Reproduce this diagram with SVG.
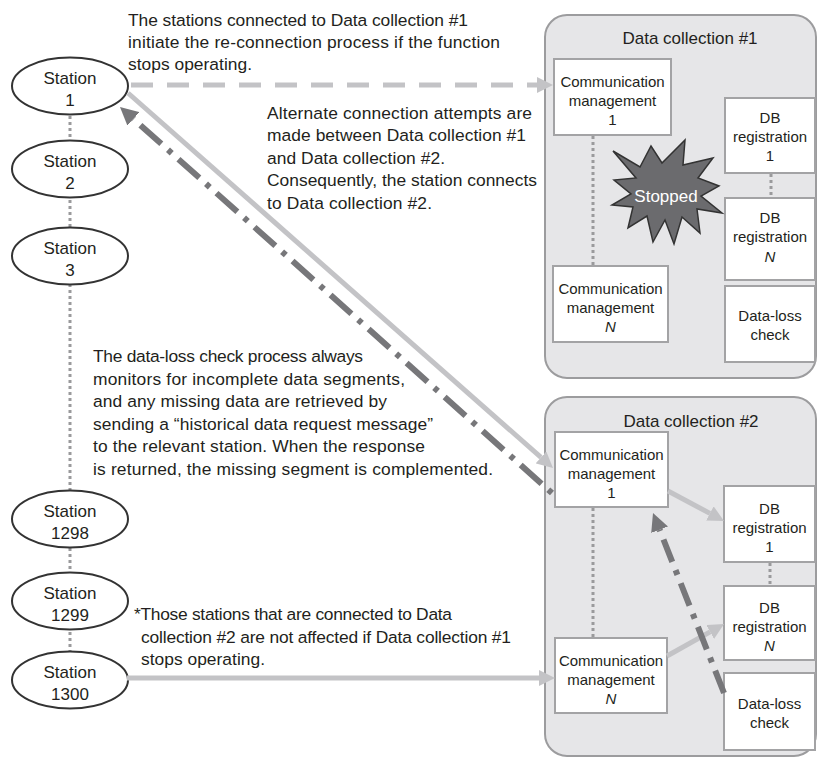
<svg xmlns="http://www.w3.org/2000/svg" width="817" height="758" viewBox="0 0 817 758">
  <style>
    text { font-family: "Liberation Sans", Arial, sans-serif; fill: #231f20; }
    .note { font-size: 17.4px; }
    .st { font-size: 17px; text-anchor: middle; }
    .nd { font-size: 15px; text-anchor: middle; }
    .ttl { font-size: 17px; text-anchor: middle; }
    .it { font-style: italic; }
    .station ellipse { fill: #ffffff; stroke: #333333; stroke-width: 2; }
    .panel { fill: #e6e6e8; stroke: #9c9c9e; stroke-width: 2; }
    .box { fill: #ffffff; stroke: #a3a3a5; stroke-width: 2; }
    .dots { stroke: #9a9a9c; stroke-width: 3; stroke-dasharray: 3 3; fill: none; }
    .light { stroke: #c3c3c6; stroke-width: 5; fill: none; }
    .lightdash { stroke: #c3c3c6; stroke-width: 5; fill: none; stroke-dasharray: 22 14; }
    .dark { stroke: #77777a; stroke-width: 6; fill: none; }
    .burst { fill: #6b6b6e; stroke: #333333; stroke-width: 1.5; }
  </style>
  <defs>
    <marker id="arrLight" viewBox="0 0 16 16" markerUnits="userSpaceOnUse" markerWidth="16" markerHeight="16" refX="0" refY="8" orient="auto">
      <path d="M0,0 L16,8 L0,16 z" fill="#c3c3c6"/>
    </marker>
    <marker id="arrDark" viewBox="0 0 18 18" markerUnits="userSpaceOnUse" markerWidth="18" markerHeight="18" refX="0" refY="9" orient="auto">
      <path d="M0,0 L18,9 L0,18 z" fill="#77777a"/>
    </marker>
  </defs>

  <!-- panels -->
  <g id="dc1">
    <rect class="panel" x="545" y="15" width="271" height="363" rx="22"/>
    <text class="ttl" x="690" y="44">Data collection #1</text>
  </g>
  <g id="dc2">
    <rect class="panel" x="545" y="397" width="271" height="359" rx="22"/>
    <text class="ttl" x="691" y="427">Data collection #2</text>
  </g>

  <!-- station chain backbone -->
  <line class="dots" x1="70" y1="86" x2="70" y2="680"/>
  <!-- links inside panels -->
  <line class="dots" x1="593" y1="136" x2="593" y2="266"/>
  <line class="dots" x1="771" y1="174" x2="771" y2="198"/>
  <line class="dots" x1="593" y1="508" x2="593" y2="638"/>
  <line class="dots" x1="770" y1="563" x2="770" y2="586"/>

  <!-- stations -->
  <g id="station1" class="station">
    <ellipse cx="70" cy="86" rx="58" ry="28.5"/>
    <text class="st" x="70" y="84">Station</text>
    <text class="st" x="70" y="106">1</text>
  </g>
  <g id="station2" class="station">
    <ellipse cx="70" cy="169" rx="58" ry="28.5"/>
    <text class="st" x="70" y="167">Station</text>
    <text class="st" x="70" y="189">2</text>
  </g>
  <g id="station3" class="station">
    <ellipse cx="70" cy="256" rx="58" ry="28.5"/>
    <text class="st" x="70" y="254">Station</text>
    <text class="st" x="70" y="276">3</text>
  </g>
  <g id="station1298" class="station">
    <ellipse cx="70" cy="519" rx="58" ry="28.5"/>
    <text class="st" x="70" y="517">Station</text>
    <text class="st" x="70" y="539">1298</text>
  </g>
  <g id="station1299" class="station">
    <ellipse cx="70" cy="601" rx="58" ry="28.5"/>
    <text class="st" x="70" y="599">Station</text>
    <text class="st" x="70" y="621">1299</text>
  </g>
  <g id="station1300" class="station">
    <ellipse cx="70" cy="680" rx="58" ry="28.5"/>
    <text class="st" x="70" y="678">Station</text>
    <text class="st" x="70" y="700">1300</text>
  </g>

  <!-- Data collection #1 components -->
  <g id="dc1-comm1">
    <rect class="box" x="554" y="59" width="117" height="76"/>
    <text class="nd" x="612.5" y="87">Communication</text>
    <text class="nd" x="612.5" y="106">management</text>
    <text class="nd" x="612.5" y="125">1</text>
  </g>
  <g id="dc1-commN">
    <rect class="box" x="553" y="266" width="115" height="76"/>
    <text class="nd" x="610.5" y="294">Communication</text>
    <text class="nd" x="610.5" y="313">management</text>
    <text class="nd it" x="610.5" y="332">N</text>
  </g>
  <g id="dc1-db1">
    <rect class="box" x="725" y="98" width="90" height="75"/>
    <text class="nd" x="770" y="123">DB</text>
    <text class="nd" x="770" y="142">registration</text>
    <text class="nd" x="770" y="161">1</text>
  </g>
  <g id="dc1-dbN">
    <rect class="box" x="725" y="198" width="90" height="82"/>
    <text class="nd" x="770" y="223">DB</text>
    <text class="nd" x="770" y="242">registration</text>
    <text class="nd it" x="770" y="262">N</text>
  </g>
  <g id="dc1-loss">
    <rect class="box" x="725" y="286" width="90" height="76"/>
    <text class="nd" x="770" y="321">Data-loss</text>
    <text class="nd" x="770" y="340">check</text>
  </g>
  <g id="dc1-stopped">
    <polygon class="burst" points="613,151 640,167 651,146 662,163 685,140 683,165 713,158 698,178 719,186 701,196 722,213 697,209 700,233 682,217 674,244 665,220 653,242 647,216 628,228 633,207 612,205 631,194 614,180 636,178"/>
    <text x="666" y="202" style="font-size:17px;text-anchor:middle;fill:#ffffff">Stopped</text>
  </g>

  <!-- Data collection #2 components -->
  <g id="dc2-comm1">
    <rect class="box" x="555" y="432" width="113" height="75"/>
    <text class="nd" x="611.5" y="460">Communication</text>
    <text class="nd" x="611.5" y="479">management</text>
    <text class="nd" x="611.5" y="498">1</text>
  </g>
  <g id="dc2-commN">
    <rect class="box" x="555" y="638" width="112" height="75"/>
    <text class="nd" x="611" y="666">Communication</text>
    <text class="nd" x="611" y="685">management</text>
    <text class="nd it" x="611" y="704">N</text>
  </g>
  <g id="dc2-db1">
    <rect class="box" x="724" y="486" width="91" height="76"/>
    <text class="nd" x="769.5" y="514">DB</text>
    <text class="nd" x="769.5" y="533">registration</text>
    <text class="nd" x="769.5" y="552">1</text>
  </g>
  <g id="dc2-dbN">
    <rect class="box" x="724" y="586" width="91" height="74"/>
    <text class="nd" x="769.5" y="613">DB</text>
    <text class="nd" x="769.5" y="632">registration</text>
    <text class="nd it" x="769.5" y="651">N</text>
  </g>
  <g id="dc2-loss">
    <rect class="box" x="724" y="673" width="91" height="77"/>
    <text class="nd" x="769.5" y="709">Data-loss</text>
    <text class="nd" x="769.5" y="728">check</text>
  </g>

  <!-- connectors -->
  <g id="connectors">
    <line class="lightdash" x1="131" y1="85" x2="537" y2="85" marker-end="url(#arrLight)"/>
    <line class="light" x1="128" y1="93" x2="541" y2="457.4" marker-end="url(#arrLight)"/>
    <line class="dark" x1="552" y1="493" x2="133.4" y2="118.9" stroke-dasharray="5 9 28 9" marker-end="url(#arrDark)"/>
    <line class="light" x1="668" y1="491" x2="709.9" y2="513.4" marker-end="url(#arrLight)"/>
    <line class="light" x1="667" y1="656" x2="710.1" y2="631.9" marker-end="url(#arrLight)"/>
    <line class="dark" x1="724" y1="693" x2="659.6" y2="529.7" stroke-dasharray="24 9 5 9" marker-end="url(#arrDark)"/>
    <line class="light" x1="127" y1="678" x2="539" y2="678" marker-end="url(#arrLight)"/>
  </g>

  <!-- notes -->
  <g id="note-reconnect">
    <text class="note" x="128" y="26" textLength="340">The stations connected to Data collection #1</text>
    <text class="note" x="128" y="48" textLength="372">initiate the re-connection process if the function</text>
    <text class="note" x="128" y="70" textLength="124">stops operating.</text>
  </g>
  <g id="note-alternate">
    <text class="note" x="267" y="119" textLength="265">Alternate connection attempts are</text>
    <text class="note" x="267" y="141" textLength="259">made between Data collection #1</text>
    <text class="note" x="267" y="164" textLength="178">and Data collection #2.</text>
    <text class="note" x="267" y="186" textLength="270">Consequently, the station connects</text>
    <text class="note" x="267" y="209" textLength="165">to Data collection #2.</text>
  </g>
  <g id="note-dataloss">
    <text class="note" x="93" y="362" textLength="270">The data-loss check process always</text>
    <text class="note" x="93" y="385" textLength="312">monitors for incomplete data segments,</text>
    <text class="note" x="93" y="407" textLength="294">and any missing data are retrieved by</text>
    <text class="note" x="93" y="430" textLength="340">sending a “historical data request message”</text>
    <text class="note" x="93" y="452" textLength="332">to the relevant station. When the response</text>
    <text class="note" x="93" y="475" textLength="400">is returned, the missing segment is complemented.</text>
  </g>
  <g id="note-unaffected">
    <text class="note" x="134" y="620" textLength="318">*Those stations that are connected to Data</text>
    <text class="note" x="141" y="643" textLength="370">collection #2 are not affected if Data collection #1</text>
    <text class="note" x="141" y="665" textLength="124">stops operating.</text>
  </g>
</svg>
